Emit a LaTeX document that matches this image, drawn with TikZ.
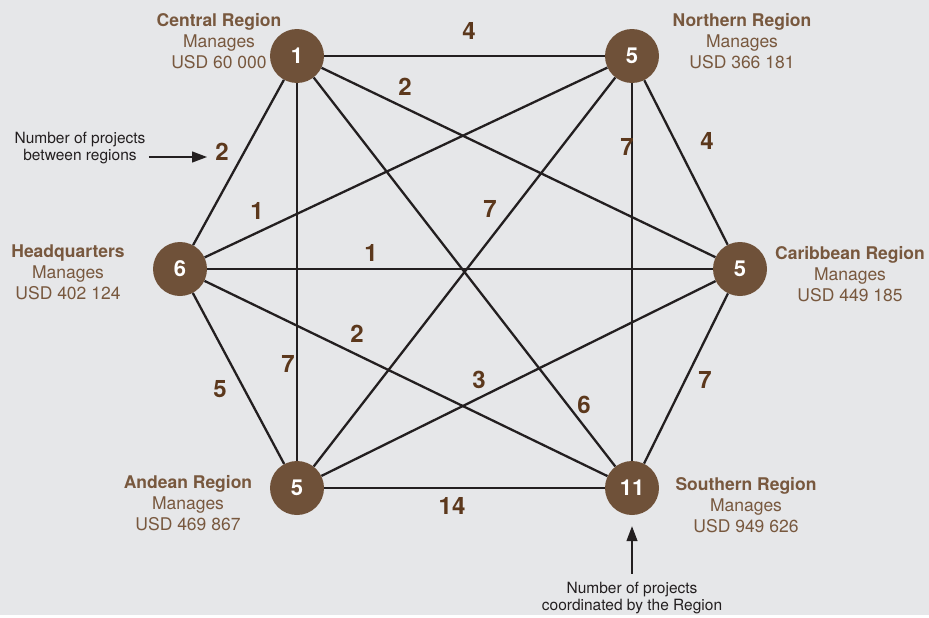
\documentclass[tikz,border=0pt]{standalone}
\usepackage{fontspec}
\setmainfont{TeX Gyre Heros}
\definecolor{regionBrown}{RGB}{111,81,57}
\definecolor{textBrown}{RGB}{120,88,62}
\definecolor{countBrown}{RGB}{92,56,28}
\definecolor{paperGray}{RGB}{230,231,233}
\definecolor{inkBlack}{RGB}{35,31,32}
\usetikzlibrary{arrows.meta, positioning}

\begin{document}
\begin{tikzpicture}[
    x=1pt, y=-1pt,
    every node/.style={font=\fontsize{17.5}{21}\selectfont},
    region/.style={circle, fill=regionBrown, minimum size=54pt, inner sep=0pt,
                   text=white, font=\fontsize{22}{22}\selectfont\bfseries},
    info/.style={align=center, text=textBrown, inner sep=0pt,
                 font=\fontsize{17.5}{21}\selectfont},
    count/.style={text=countBrown, inner sep=0pt,
                  font=\fontsize{24}{24}\selectfont\bfseries},
    link/.style={draw=inkBlack, line width=2.3pt},
    note/.style={align=center, text=inkBlack, font=\fontsize{15.5}{17}\selectfont},
    pointer/.style={draw=inkBlack, line width=1.3pt, -{Triangle[length=15pt,width=11pt]}}
  ]
    \fill[paperGray] (0,0) rectangle (929,615);

    % regions
    \node[region] (c) at (297,56) {1};
    \node[region] (n) at (632,56) {5};
    \node[region] (h) at (180,269) {6};
    \node[region] (k) at (740,269) {5};
    \node[region] (a) at (297,488) {5};
    \node[region] (s) at (632,488) {11};

    % links between regions
    \foreach \from/\to in {c/n, c/h, c/k, c/a, c/s, n/h, n/k, n/a, n/s,
                           h/k, h/a, h/s, k/a, k/s, a/s}
      \draw[link] (\from) -- (\to);

    % projects between regions
    \node[count] (cn) at (469,31) {4};
    \node[count] (ck) at (405,87) {2};
    \node[count] (ch) at (222,152) {2};
    \node[count] (nh) at (257,211) {1};
    \node[count] (hk) at (371,253) {1};
    \node[count] (na) at (490,209) {7};
    \node[count] (ns) at (627,147) {7};
    \node[count] (nk) at (707,141) {4};
    \node[count] (hs) at (357,334) {2};
    \node[count] (ca) at (288,364) {7};
    \node[count] (ha) at (220,389) {5};
    \node[count] (ka) at (479,380) {3};
    \node[count] (cs) at (584,405) {6};
    \node[count] (ks) at (705,380) {7};
    \node[count] (as) at (452,506) {14};

    % region captions
    \node[info] (cinfo) at (219,41) {\textbf{Central Region}\\Manages\\USD 60 000};
    \node[info] (ninfo) at (742,41) {\textbf{Northern Region}\\Manages\\USD 366 181};
    \node[info] (hinfo) at (68,272) {\textbf{Headquarters}\\Manages\\USD 402 124};
    \node[info] (kinfo) at (850,274) {\textbf{Caribbean Region}\\Manages\\USD 449 185};
    \node[info] (ainfo) at (188,503) {\textbf{Andean Region}\\Manages\\USD 469 867};
    \node[info] (sinfo) at (746,505) {\textbf{Southern Region}\\Manages\\USD 949 626};

    % notes
    \node[note] (pairnote) at (80,148) {Number of projects\\between regions};
    \coordinate (pairtip) at (207,157);
    \draw[pointer] (pairnote.east |- pairtip) -- (pairtip);

    \node[note] (ownnote) at (632,598) {Number of projects\\coordinated by the Region};
    \draw[pointer, shorten <=5pt, shorten >=11pt] (ownnote.north) -- (s);
\end{tikzpicture}
\end{document}
